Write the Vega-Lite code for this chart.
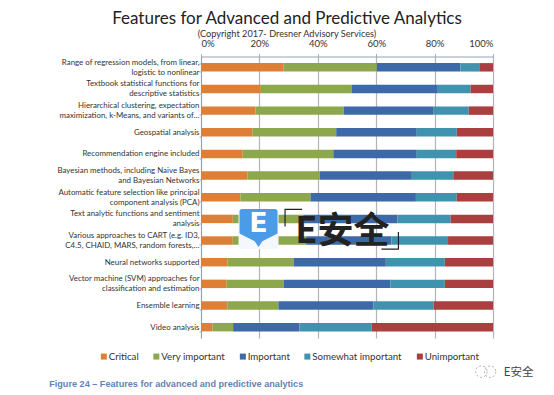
{"$schema":"https://vega.github.io/schema/vega-lite/v6.json","width":292,"height":281.5,"autosize":"none","padding":{"left":201,"top":56.5,"right":61,"bottom":57},"background":"white",
"params":[{"name":"labelMap","value":{
"Range of regression models, from linear, logistic to nonlinear":["Range of regression models, from linear,\u00a0\u00a0\u00a0\u00a0","logistic to nonlinear\u00a0\u00a0\u00a0\u00a0\u00a0\u00a0\u00a0\u00a0\u00a0\u00a0\u00a0\u00a0\u00a0\u00a0\u00a0\u00a0\u00a0\u00a0\u00a0\u00a0\u00a0\u00a0\u00a0\u00a0\u00a0\u00a0"],
"Textbook statistical functions for descriptive statistics":["Textbook statistical functions for\u00a0\u00a0\u00a0\u00a0","descriptive statistics\u00a0\u00a0\u00a0\u00a0\u00a0\u00a0\u00a0\u00a0\u00a0\u00a0\u00a0\u00a0\u00a0\u00a0\u00a0\u00a0\u00a0"],
"Hierarchical clustering, expectation maximization, k-Means, and variants of…":["Hierarchical clustering, expectation\u00a0\u00a0\u00a0\u00a0\u00a0\u00a0\u00a0\u00a0","maximization, k-Means, and variants of…"],
"Geospatial analysis":"Geospatial analysis\u00a0\u00a0\u00a0\u00a0",
"Recommendation engine included":"Recommendation engine included\u00a0\u00a0\u00a0\u00a0",
"Bayesian methods, including Naive Bayes and Bayesian Networks":["Bayesian methods, including Naive Bayes\u00a0\u00a0\u00a0\u00a0","and Bayesian Networks\u00a0\u00a0\u00a0\u00a0\u00a0\u00a0\u00a0\u00a0\u00a0\u00a0\u00a0\u00a0\u00a0\u00a0\u00a0\u00a0\u00a0\u00a0\u00a0\u00a0\u00a0\u00a0\u00a0"],
"Automatic feature selection like principal component analysis (PCA)":["Automatic feature selection like principal\u00a0\u00a0\u00a0\u00a0","component analysis (PCA)\u00a0\u00a0\u00a0\u00a0\u00a0\u00a0\u00a0\u00a0\u00a0\u00a0\u00a0\u00a0\u00a0\u00a0\u00a0\u00a0\u00a0\u00a0\u00a0\u00a0"],
"Text analytic functions and sentiment analysis":["Text analytic functions and sentiment\u00a0\u00a0\u00a0\u00a0","analysis\u00a0\u00a0\u00a0\u00a0\u00a0\u00a0\u00a0\u00a0\u00a0\u00a0\u00a0\u00a0\u00a0\u00a0\u00a0\u00a0\u00a0\u00a0\u00a0\u00a0\u00a0\u00a0\u00a0\u00a0\u00a0\u00a0\u00a0\u00a0\u00a0\u00a0\u00a0\u00a0\u00a0\u00a0\u00a0\u00a0"],
"Various approaches to CART (e.g. ID3, C4.5, CHAID, MARS, random forests,…":["Various approaches to CART (e.g. ID3,\u00a0\u00a0\u00a0\u00a0","C4.5, CHAID, MARS, random forests,…\u00a0"],
"Neural networks supported":"Neural networks supported\u00a0\u00a0\u00a0\u00a0",
"Vector machine (SVM) approaches for classification and estimation":["Vector machine (SVM) approaches for\u00a0\u00a0\u00a0\u00a0","classification and estimation\u00a0\u00a0\u00a0\u00a0\u00a0\u00a0\u00a0\u00a0\u00a0\u00a0\u00a0\u00a0\u00a0\u00a0"],
"Ensemble learning":"Ensemble learning\u00a0\u00a0\u00a0\u00a0",
"Video analysis":"Video analysis\u00a0\u00a0\u00a0\u00a0"}}],
"title":{"text":"Features for Advanced and Predictive Analytics","subtitle":"(Copyright 2017- Dresner Advisory Services)","font":"Lato","fontSize":17,"fontWeight":"normal","color":"#222222","subtitleFont":"Lato","subtitleFontSize":9.2,"subtitleColor":"#333333","subtitlePadding":2,"anchor":"middle","frame":"group","dx":-60,"offset":-2},
"config":{"view":{"stroke":null},"axis":{"labelFont":"Lato","titleFont":"Lato"},"legend":{"labelFont":"Lato"}},
"datasets":{"seg":[
{"feature":"Range of regression models, from linear, logistic to nonlinear","level":"Critical","o":1,"share":0.282},{"feature":"Range of regression models, from linear, logistic to nonlinear","level":"Very important","o":2,"share":0.320},{"feature":"Range of regression models, from linear, logistic to nonlinear","level":"Important","o":3,"share":0.286},{"feature":"Range of regression models, from linear, logistic to nonlinear","level":"Somewhat important","o":4,"share":0.065},{"feature":"Range of regression models, from linear, logistic to nonlinear","level":"Unimportant","o":5,"share":0.047},
{"feature":"Textbook statistical functions for descriptive statistics","level":"Critical","o":1,"share":0.205},{"feature":"Textbook statistical functions for descriptive statistics","level":"Very important","o":2,"share":0.312},{"feature":"Textbook statistical functions for descriptive statistics","level":"Important","o":3,"share":0.294},{"feature":"Textbook statistical functions for descriptive statistics","level":"Somewhat important","o":4,"share":0.112},{"feature":"Textbook statistical functions for descriptive statistics","level":"Unimportant","o":5,"share":0.077},
{"feature":"Hierarchical clustering, expectation maximization, k-Means, and variants of…","level":"Critical","o":1,"share":0.187},{"feature":"Hierarchical clustering, expectation maximization, k-Means, and variants of…","level":"Very important","o":2,"share":0.302},{"feature":"Hierarchical clustering, expectation maximization, k-Means, and variants of…","level":"Important","o":3,"share":0.308},{"feature":"Hierarchical clustering, expectation maximization, k-Means, and variants of…","level":"Somewhat important","o":4,"share":0.120},{"feature":"Hierarchical clustering, expectation maximization, k-Means, and variants of…","level":"Unimportant","o":5,"share":0.083},
{"feature":"Geospatial analysis","level":"Critical","o":1,"share":0.177},{"feature":"Geospatial analysis","level":"Very important","o":2,"share":0.286},{"feature":"Geospatial analysis","level":"Important","o":3,"share":0.276},{"feature":"Geospatial analysis","level":"Somewhat important","o":4,"share":0.137},{"feature":"Geospatial analysis","level":"Unimportant","o":5,"share":0.124},
{"feature":"Recommendation engine included","level":"Critical","o":1,"share":0.143},{"feature":"Recommendation engine included","level":"Very important","o":2,"share":0.310},{"feature":"Recommendation engine included","level":"Important","o":3,"share":0.286},{"feature":"Recommendation engine included","level":"Somewhat important","o":4,"share":0.135},{"feature":"Recommendation engine included","level":"Unimportant","o":5,"share":0.126},
{"feature":"Bayesian methods, including Naive Bayes and Bayesian Networks","level":"Critical","o":1,"share":0.159},{"feature":"Bayesian methods, including Naive Bayes and Bayesian Networks","level":"Very important","o":2,"share":0.248},{"feature":"Bayesian methods, including Naive Bayes and Bayesian Networks","level":"Important","o":3,"share":0.315},{"feature":"Bayesian methods, including Naive Bayes and Bayesian Networks","level":"Somewhat important","o":4,"share":0.142},{"feature":"Bayesian methods, including Naive Bayes and Bayesian Networks","level":"Unimportant","o":5,"share":0.136},
{"feature":"Automatic feature selection like principal component analysis (PCA)","level":"Critical","o":1,"share":0.135},{"feature":"Automatic feature selection like principal component analysis (PCA)","level":"Very important","o":2,"share":0.240},{"feature":"Automatic feature selection like principal component analysis (PCA)","level":"Important","o":3,"share":0.361},{"feature":"Automatic feature selection like principal component analysis (PCA)","level":"Somewhat important","o":4,"share":0.140},{"feature":"Automatic feature selection like principal component analysis (PCA)","level":"Unimportant","o":5,"share":0.124},
{"feature":"Text analytic functions and sentiment analysis","level":"Critical","o":1,"share":0.109},{"feature":"Text analytic functions and sentiment analysis","level":"Very important","o":2,"share":0.241},{"feature":"Text analytic functions and sentiment analysis","level":"Important","o":3,"share":0.323},{"feature":"Text analytic functions and sentiment analysis","level":"Somewhat important","o":4,"share":0.182},{"feature":"Text analytic functions and sentiment analysis","level":"Unimportant","o":5,"share":0.145},
{"feature":"Various approaches to CART (e.g. ID3, C4.5, CHAID, MARS, random forests,…","level":"Critical","o":1,"share":0.109},{"feature":"Various approaches to CART (e.g. ID3, C4.5, CHAID, MARS, random forests,…","level":"Very important","o":2,"share":0.251},{"feature":"Various approaches to CART (e.g. ID3, C4.5, CHAID, MARS, random forests,…","level":"Important","o":3,"share":0.292},{"feature":"Various approaches to CART (e.g. ID3, C4.5, CHAID, MARS, random forests,…","level":"Somewhat important","o":4,"share":0.194},{"feature":"Various approaches to CART (e.g. ID3, C4.5, CHAID, MARS, random forests,…","level":"Unimportant","o":5,"share":0.154},
{"feature":"Neural networks supported","level":"Critical","o":1,"share":0.090},{"feature":"Neural networks supported","level":"Very important","o":2,"share":0.227},{"feature":"Neural networks supported","level":"Important","o":3,"share":0.316},{"feature":"Neural networks supported","level":"Somewhat important","o":4,"share":0.202},{"feature":"Neural networks supported","level":"Unimportant","o":5,"share":0.165},
{"feature":"Vector machine (SVM) approaches for classification and estimation","level":"Critical","o":1,"share":0.088},{"feature":"Vector machine (SVM) approaches for classification and estimation","level":"Very important","o":2,"share":0.196},{"feature":"Vector machine (SVM) approaches for classification and estimation","level":"Important","o":3,"share":0.365},{"feature":"Vector machine (SVM) approaches for classification and estimation","level":"Somewhat important","o":4,"share":0.186},{"feature":"Vector machine (SVM) approaches for classification and estimation","level":"Unimportant","o":5,"share":0.165},
{"feature":"Ensemble learning","level":"Critical","o":1,"share":0.090},{"feature":"Ensemble learning","level":"Very important","o":2,"share":0.175},{"feature":"Ensemble learning","level":"Important","o":3,"share":0.326},{"feature":"Ensemble learning","level":"Somewhat important","o":4,"share":0.205},{"feature":"Ensemble learning","level":"Unimportant","o":5,"share":0.204},
{"feature":"Video analysis","level":"Critical","o":1,"share":0.039},{"feature":"Video analysis","level":"Very important","o":2,"share":0.071},{"feature":"Video analysis","level":"Important","o":3,"share":0.227},{"feature":"Video analysis","level":"Somewhat important","o":4,"share":0.248},{"feature":"Video analysis","level":"Unimportant","o":5,"share":0.415}
]},
"layer":[
{"data":{"name":"seg"},"mark":{"type":"bar"},
"encoding":{
"y":{"field":"feature","type":"nominal","title":null,"scale":{"domain":["Range of regression models, from linear, logistic to nonlinear","Textbook statistical functions for descriptive statistics","Hierarchical clustering, expectation maximization, k-Means, and variants of…","Geospatial analysis","Recommendation engine included","Bayesian methods, including Naive Bayes and Bayesian Networks","Automatic feature selection like principal component analysis (PCA)","Text analytic functions and sentiment analysis","Various approaches to CART (e.g. ID3, C4.5, CHAID, MARS, random forests,…","Neural networks supported","Vector machine (SVM) approaches for classification and estimation","Ensemble learning","Video analysis"],"paddingInner":0.61,"paddingOuter":0.305},
"axis":{"labelExpr":"labelMap[datum.label]","labelFontSize":7.9,"labelColor":"#333333","labelLimit":0,"labelLineHeight":10,"labelPadding":0,"tickSize":2,"tickBand":"extent","tickColor":"#9fb0c2","domainColor":"#8fa4bb","grid":false,"labelBound":false,"labelOverlap":false,"encoding":{"labels":{"dy":{"condition":{"test":"isArray(labelMap[datum.value])","value":-5},"value":0}}}}},
"x":{"field":"share","type":"quantitative","stack":"zero","title":null,"scale":{"domain":[0,1],"nice":false},
"axis":{"orient":"top","values":[0,0.2,0.4,0.6,0.8,1],"format":".0%","labelFontSize":9.5,"labelColor":"#333333","labelPadding":5,"tickSize":3,"tickColor":"#9fb0c2","domainColor":"#8fa4bb","grid":true,"gridColor":"#b4b4b8","gridWidth":1.2}},
"color":{"field":"level","type":"nominal","title":null,"scale":{"domain":["Critical","Very important","Important","Somewhat important","Unimportant"],"range":["#DE7F37","#8DA74C","#3E69A8","#4093AE","#A9403F"]},
"legend":{"orient":"none","legendX":-102,"legendY":295,"direction":"horizontal","columns":5,"columnPadding":12.5,"symbolType":"square","symbolSize":36,"symbolStrokeWidth":0,"labelFontSize":9.7,"labelColor":"#333333","labelOffset":0}},
"order":{"field":"o","type":"quantitative"}}},
{"data":{"values":[{"s":0.197,"f":"Text analytic functions and sentiment analysis"}]},"mark":{"type":"point","shape":"square","filled":true,"fill":"#f4f7fb","size":1600,"opacity":1,"yOffset":10},"encoding":{"x":{"field":"s","type":"quantitative"},"y":{"field":"f","type":"nominal"}}},
{"data":{"values":[{"s":0.197,"f":"Text analytic functions and sentiment analysis"}]},"mark":{"type":"point","shape":"M -1 -0.85 Q -1 -1 -0.85 -1 H 0.85 Q 1 -1 1 -0.85 V 0.3 L 0.2 0.7 L 0 1 L -0.2 0.7 L -1 0.3 Z","filled":true,"fill":"#4A9BE8","size":1444,"opacity":1,"yOffset":9},"encoding":{"x":{"field":"s","type":"quantitative"},"y":{"field":"f","type":"nominal"}}},
{"data":{"values":[{"s":0.197,"f":"Text analytic functions and sentiment analysis","t":"E"}]},"mark":{"type":"text","font":"DejaVu Sans","fontWeight":"bold","fontSize":27,"fill":"white","dy":5},"encoding":{"x":{"field":"s","type":"quantitative"},"y":{"field":"f","type":"nominal"},"text":{"field":"t"}}},
{"data":{"values":[{"s":0.484,"f":"Text analytic functions and sentiment analysis","t":"E安全"}]},"mark":{"type":"text","font":"Noto Sans CJK SC","fontWeight":"bold","fontSize":36,"fill":"#222222","dy":13},"encoding":{"x":{"field":"s","type":"quantitative"},"y":{"field":"f","type":"nominal"},"text":{"field":"t"}}},
{"data":{"values":[{"s":0.317,"f":"Text analytic functions and sentiment analysis"}]},"mark":{"type":"point","shape":"M -1 1 V -1 H 1","filled":false,"stroke":"#222222","strokeWidth":1.2,"size":289,"opacity":1,"yOffset":-1},"encoding":{"x":{"field":"s","type":"quantitative"},"y":{"field":"f","type":"nominal"}}},
{"data":{"values":[{"s":0.647,"f":"Various approaches to CART (e.g. ID3, C4.5, CHAID, MARS, random forests,…"}]},"mark":{"type":"point","shape":"M 1 -1 V 1 H -1","filled":false,"stroke":"#222222","strokeWidth":1.2,"size":289,"opacity":1},"encoding":{"x":{"field":"s","type":"quantitative"},"y":{"field":"f","type":"nominal"}}},
{"data":{"values":[{"s":-0.52,"f":"Video analysis","t":"Figure 24 – Features for advanced and predictive analytics"}]},"mark":{"type":"text","align":"left","font":"Liberation Sans","fontWeight":"bold","fontSize":9.15,"fill":"#5F83B8","dy":56.5},"encoding":{"x":{"field":"s","type":"quantitative"},"y":{"field":"f","type":"nominal"},"text":{"field":"t"}}},
{"data":{"values":[{"s":1.037,"f":"Video analysis","t":"E安全"}]},"mark":{"type":"text","align":"left","font":"Noto Sans CJK SC","fontSize":11.5,"fill":"#444444","dy":46},"encoding":{"x":{"field":"s","type":"quantitative"},"y":{"field":"f","type":"nominal"},"text":{"field":"t"}}},
{"data":{"values":[{"s":0.96,"f":"Video analysis"},{"s":0.99,"f":"Video analysis"}]},"mark":{"type":"point","shape":"circle","filled":false,"stroke":"#999999","strokeWidth":0.8,"strokeDash":[2,2],"size":130,"opacity":1,"yOffset":44.5},"encoding":{"x":{"field":"s","type":"quantitative"},"y":{"field":"f","type":"nominal"}}}
]}
